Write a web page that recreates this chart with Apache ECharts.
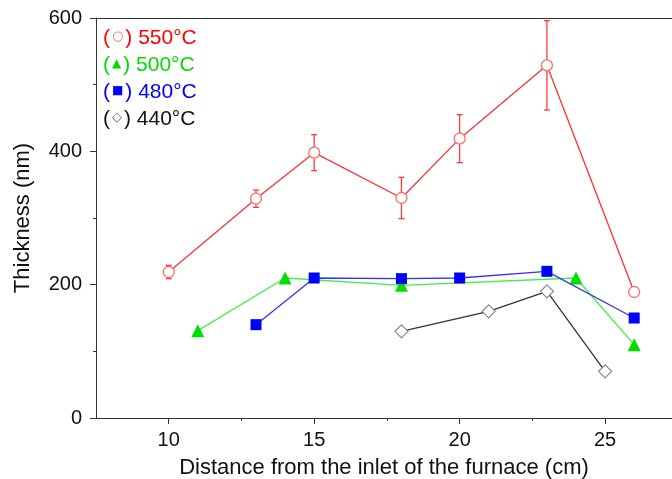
<!DOCTYPE html>
<html>
<head>
<meta charset="utf-8">
<script src="https://cdn.jsdelivr.net/npm/echarts@6/dist/echarts.min.js"></script>
<style>
  html, body { margin: 0; padding: 0; background: #fff; }
  #chart { width: 672px; height: 479px; }
</style>
</head>
<body>
<div id="chart"></div>
<script>
// Film thickness vs. position in the furnace, one series per deposition temperature
const dist550 = [10, 13, 15, 18, 20, 23, 26];
const thick550 = [219, 329, 398, 330, 419, 529, 189];
const err550 = [10, 13, 27, 31, 36, 67, 5];

const dist500 = [11, 14, 18, 24, 26];
const thick500 = [131, 210, 199, 210, 110];

const dist480 = [13, 15, 18, 20, 23, 26];
const thick480 = [140, 210, 209, 210, 220, 150];

const dist440 = [18, 21, 23, 25];
const thick440 = [130, 160, 190, 70];

const xMajorTicks = [10, 15, 20, 25];
const xMinorTicks = [12.5, 17.5, 22.5];

const FONT = '"Liberation Sans", Arial, sans-serif';
const AXIS_COLOR = '#333';

const pairs = (xs, ys) => xs.map((x, i) => [x, ys[i]]);
const errData = dist550.map((x, i) => [x, thick550[i] - err550[i], thick550[i] + err550[i]]);

const legendGlyph = {
  '550°C': '{c550|○}',
  '500°C': '{c500|▲}',
  '480°C': '{c480|■}',
  '440°C': '{c440|◇}'
};

const chart = echarts.init(document.getElementById('chart'), null, { renderer: 'canvas' });

const X_MIN = 7.5, X_MAX = 27.3;

chart.setOption({
  animation: false,
  backgroundColor: '#fff',
  grid: { left: 96, top: 18, width: 576, height: 400, outerBoundsMode: 'none', containLabel: false },
  legend: {
    orient: 'vertical',
    left: 92,
    top: 21,
    itemWidth: 0,
    itemHeight: 0,
    itemGap: 3,
    selectedMode: false,
    formatter: name => '(' + legendGlyph[name] + ') ' + name,
    textStyle: {
      fontFamily: FONT,
      fontSize: 21,
      lineHeight: 24,
      rich: {
        c550: { color: '#ff6060', fontSize: 13, fontFamily: '"DejaVu Sans"', padding: [0, 2, 2, 2] },
        c500: { color: '#00dd00', fontSize: 12, fontFamily: '"DejaVu Sans"', padding: [0, 2, 2, 2] },
        c480: { color: '#0000ff', fontSize: 12, fontFamily: '"DejaVu Sans"', padding: [0, 2, 2, 2] },
        c440: { color: '#555', fontSize: 13, fontFamily: '"DejaVu Sans"', padding: [0, 2, 2, 2] }
      }
    },
    data: [
      { name: '550°C', textStyle: { color: '#ff0000' } },
      { name: '500°C', textStyle: { color: '#00dd00' } },
      { name: '480°C', textStyle: { color: '#0000ff' } },
      { name: '440°C', textStyle: { color: '#111' } }
    ]
  },
  xAxis: [
    {
      type: 'value',
      min: X_MIN,
      max: X_MAX,
      position: 'bottom',
      name: 'Distance from the inlet of the furnace (cm)',
      nameLocation: 'middle',
      nameGap: 39,
      nameTextStyle: { fontFamily: FONT, fontSize: 22, color: '#111' },
      axisLine: { show: true, lineStyle: { color: AXIS_COLOR, width: 1 } },
      axisTick: { show: true, inside: false, length: 6, customValues: xMajorTicks, lineStyle: { color: AXIS_COLOR } },
      axisLabel: { show: true, margin: 12, customValues: xMajorTicks, fontFamily: FONT, fontSize: 20, color: '#111' },
      splitLine: { show: false }
    },
    {
      // minor ticks between the labelled ones
      type: 'value',
      min: X_MIN,
      max: X_MAX,
      position: 'bottom',
      axisLine: { show: false },
      axisTick: { show: true, inside: false, length: 3, customValues: xMinorTicks, lineStyle: { color: AXIS_COLOR } },
      axisLabel: { show: false },
      splitLine: { show: false }
    },
    {
      // top frame line
      type: 'value',
      min: X_MIN,
      max: X_MAX,
      position: 'top',
      axisLine: { show: true, lineStyle: { color: AXIS_COLOR, width: 1 } },
      axisTick: { show: false },
      axisLabel: { show: false },
      splitLine: { show: false }
    }
  ],
  yAxis: {
    type: 'value',
    min: 0,
    max: 600,
    interval: 200,
    name: 'Thickness (nm)',
    nameLocation: 'middle',
    nameGap: 62,
    nameTextStyle: { fontFamily: FONT, fontSize: 22, color: '#111' },
    axisLine: { show: true, lineStyle: { color: AXIS_COLOR, width: 1 } },
    axisTick: { show: true, inside: false, length: 6, lineStyle: { color: AXIS_COLOR } },
    minorTick: { show: true, splitNumber: 2, length: 3, lineStyle: { color: AXIS_COLOR } },
    axisLabel: { margin: 14, fontFamily: FONT, fontSize: 20, color: '#111' },
    splitLine: { show: false }
  },
  series: [
    {
      name: '550°C-err',
      type: 'custom',
      xAxisIndex: 0,
      z: 1,
      data: errData,
      renderItem: (params, api) => {
        const x = api.value(0);
        const top = api.coord([x, api.value(2)]);
        const bot = api.coord([x, api.value(1)]);
        const cap = 3;
        const style = { stroke: '#ff3b3b', lineWidth: 1.3 };
        return {
          type: 'group',
          children: [
            { type: 'line', shape: { x1: top[0], y1: top[1], x2: bot[0], y2: bot[1] }, style },
            { type: 'line', shape: { x1: top[0] - cap, y1: top[1], x2: top[0] + cap, y2: top[1] }, style },
            { type: 'line', shape: { x1: bot[0] - cap, y1: bot[1], x2: bot[0] + cap, y2: bot[1] }, style }
          ]
        };
      }
    },
    {
      name: '550°C',
      type: 'line',
      z: 5,
      data: pairs(dist550, thick550),
      symbol: 'circle',
      symbolSize: 11,
      showAllSymbol: true,
      lineStyle: { color: '#ff3030', width: 1.3 },
      itemStyle: { color: '#fff', borderColor: '#ff6b6b', borderWidth: 1.3 }
    },
    {
      name: '500°C',
      type: 'line',
      z: 3,
      data: pairs(dist500, thick500),
      symbol: 'triangle',
      symbolSize: 13,
      lineStyle: { color: '#44ee44', width: 1.3 },
      itemStyle: { color: '#00e000', borderWidth: 0 }
    },
    {
      name: '480°C',
      type: 'line',
      z: 4,
      data: pairs(dist480, thick480),
      symbol: 'rect',
      symbolSize: 11,
      lineStyle: { color: '#3333ff', width: 1.3 },
      itemStyle: { color: '#0000ff', borderWidth: 0 }
    },
    {
      name: '440°C',
      type: 'line',
      z: 4,
      data: pairs(dist440, thick440),
      symbol: 'diamond',
      symbolSize: [13, 13],
      lineStyle: { color: '#333', width: 1.3 },
      itemStyle: { color: '#fff', borderColor: '#888', borderWidth: 1.2 }
    }
  ]
});
</script>
</body>
</html>
